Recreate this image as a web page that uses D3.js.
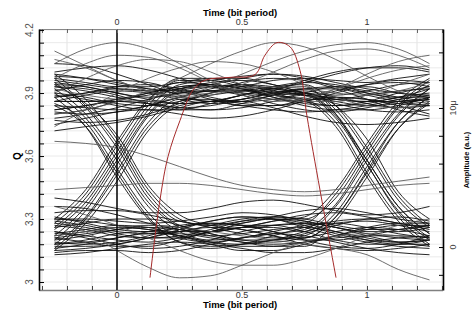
<!DOCTYPE html>
<html>
<head>
<meta charset="utf-8">
<script src="https://cdn.jsdelivr.net/npm/d3@7"></script>
<style>
  body { margin: 0; background: #fff; }
  text { font-family: "Liberation Sans", Arial, sans-serif; }
</style>
</head>
<body>
<div id="eye"></div>
<script>
// sample times (bit period) for every trace
var timeSamples = [-0.25, -0.125, 0, 0.125, 0.25, 0.375, 0.5, 0.625, 0.75, 0.875, 1, 1.125, 1.25];

// traces that stay in the "1" level
var highTraces = [
  [3.95,3.93,3.90,3.88,3.90,3.93,3.94,3.92,3.90,3.89,3.91,3.94,3.95],
  [3.88,3.90,3.93,3.94,3.92,3.88,3.86,3.87,3.90,3.93,3.93,3.90,3.88],
  [3.82,3.84,3.86,3.85,3.83,3.84,3.87,3.90,3.91,3.88,3.85,3.83,3.84],
  [3.98,3.97,3.95,3.92,3.90,3.91,3.93,3.96,3.97,3.96,3.95,3.97,3.99],
  [3.90,3.88,3.85,3.84,3.86,3.90,3.92,3.90,3.86,3.84,3.85,3.88,3.90],
  [3.78,3.80,3.83,3.87,3.90,3.91,3.89,3.85,3.82,3.81,3.83,3.86,3.87],
  [4.00,4.02,4.03,4.01,3.97,3.93,3.91,3.92,3.95,3.99,4.02,4.03,4.01],
  [3.86,3.86,3.87,3.89,3.92,3.95,3.96,3.94,3.90,3.87,3.86,3.86,3.87],
  [3.93,3.91,3.88,3.86,3.85,3.86,3.89,3.93,3.95,3.94,3.90,3.87,3.85],
  [3.75,3.78,3.81,3.82,3.80,3.78,3.79,3.82,3.86,3.88,3.87,3.84,3.80],
  [3.91,3.94,3.96,3.95,3.91,3.87,3.84,3.84,3.87,3.91,3.94,3.95,3.93],
  [3.84,3.83,3.82,3.84,3.88,3.92,3.94,3.93,3.89,3.85,3.82,3.81,3.82],
  [3.96,3.94,3.92,3.91,3.92,3.94,3.97,3.99,3.98,3.95,3.92,3.90,3.89],
  [3.80,3.82,3.86,3.90,3.93,3.94,3.92,3.88,3.84,3.82,3.82,3.84,3.88],
  [3.72,3.74,3.76,3.79,3.83,3.86,3.86,3.83,3.79,3.76,3.75,3.76,3.78],
  [3.89,3.87,3.84,3.82,3.82,3.85,3.89,3.91,3.89,3.86,3.84,3.85,3.88],
  [4.04,4.03,3.99,3.94,3.89,3.86,3.87,3.91,3.96,4.00,4.02,4.02,4.00],
  [3.77,3.76,3.77,3.80,3.85,3.90,3.95,3.97,3.96,3.92,3.87,3.82,3.79],
  [3.86,3.89,3.91,3.90,3.87,3.85,3.86,3.89,3.92,3.93,3.91,3.88,3.86],
  [3.93,3.92,3.89,3.85,3.82,3.82,3.85,3.89,3.92,3.92,3.89,3.86,3.84],
  [3.81,3.80,3.81,3.84,3.88,3.91,3.91,3.88,3.85,3.84,3.86,3.90,3.93],
  [3.97,3.95,3.93,3.93,3.95,3.97,3.97,3.94,3.90,3.87,3.86,3.88,3.92]
];

// overshoot arcs above the "1" level
var overTraces = [
  [4.04,4.11,4.14,4.11,4.04,3.96,3.90,3.87,3.88,3.92,3.97,4.01,4.03],
  [3.97,4.04,4.08,4.07,4.02,3.95,3.89,3.86,3.87,3.92,3.99,4.05,4.08],
  [3.90,3.97,4.03,4.06,4.05,4.00,3.94,3.89,3.86,3.86,3.89,3.94,3.99],
  [3.80,3.82,3.86,3.91,3.97,4.04,4.10,4.14,4.12,4.06,3.98,3.91,3.86],
  [3.92,3.89,3.87,3.86,3.88,3.93,3.99,4.05,4.10,4.13,4.14,4.11,4.04],
  [4.06,4.02,3.96,3.91,3.88,3.89,3.94,4.00,4.06,4.10,4.11,4.08,4.02],
  [3.74,3.82,3.90,3.97,4.02,4.05,4.04,4.00,3.94,3.88,3.84,3.83,3.85],
  [4.10,4.03,3.96,3.91,3.89,3.90,3.92,3.93,3.92,3.90,3.89,3.91,3.95]
];

// traces that stay in the "0" level
var lowTraces = [
  [3.20,3.22,3.25,3.27,3.26,3.23,3.20,3.19,3.21,3.24,3.26,3.25,3.22],
  [3.28,3.26,3.23,3.21,3.21,3.24,3.28,3.30,3.29,3.26,3.23,3.21,3.20],
  [3.15,3.16,3.18,3.21,3.24,3.26,3.25,3.22,3.18,3.16,3.15,3.16,3.18],
  [3.33,3.34,3.34,3.32,3.29,3.27,3.28,3.31,3.34,3.35,3.33,3.30,3.28],
  [3.24,3.21,3.18,3.16,3.17,3.20,3.24,3.27,3.28,3.26,3.22,3.19,3.17],
  [3.18,3.20,3.23,3.24,3.22,3.19,3.17,3.17,3.19,3.22,3.25,3.27,3.27],
  [3.30,3.30,3.29,3.28,3.29,3.31,3.33,3.32,3.29,3.26,3.24,3.24,3.26],
  [3.13,3.14,3.16,3.18,3.19,3.18,3.16,3.14,3.14,3.16,3.19,3.21,3.22],
  [3.26,3.28,3.30,3.30,3.27,3.23,3.20,3.20,3.23,3.27,3.30,3.31,3.29],
  [3.21,3.19,3.17,3.17,3.20,3.24,3.27,3.27,3.24,3.20,3.18,3.18,3.20],
  [3.36,3.35,3.32,3.28,3.25,3.24,3.26,3.29,3.32,3.33,3.31,3.28,3.26],
  [3.17,3.17,3.18,3.21,3.25,3.29,3.31,3.30,3.26,3.22,3.19,3.17,3.16],
  [3.23,3.25,3.27,3.26,3.22,3.18,3.15,3.15,3.18,3.22,3.26,3.28,3.28],
  [3.40,3.38,3.35,3.33,3.33,3.35,3.38,3.39,3.37,3.34,3.32,3.33,3.36],
  [3.14,3.15,3.15,3.14,3.15,3.18,3.21,3.23,3.22,3.19,3.16,3.14,3.13],
  [3.29,3.27,3.24,3.23,3.24,3.27,3.30,3.31,3.30,3.27,3.25,3.25,3.27],
  [3.22,3.24,3.26,3.25,3.22,3.19,3.18,3.20,3.24,3.28,3.29,3.27,3.24],
  [3.16,3.18,3.21,3.23,3.23,3.21,3.19,3.18,3.19,3.21,3.22,3.22,3.21],
  [3.31,3.28,3.25,3.24,3.26,3.29,3.31,3.30,3.27,3.23,3.20,3.19,3.20],
  [3.19,3.18,3.19,3.22,3.26,3.28,3.27,3.24,3.20,3.17,3.16,3.18,3.22]
];

// undershoots and stray traces
var underTraces = [
  [3.30,3.24,3.15,3.07,3.02,3.03,3.08,3.14,3.19,3.22,3.23,3.22,3.20],
  [3.22,3.24,3.26,3.27,3.26,3.24,3.22,3.20,3.18,3.16,3.13,3.06,3.01],
  [3.36,3.32,3.27,3.21,3.15,3.10,3.08,3.08,3.11,3.16,3.22,3.27,3.30],
  [3.44,3.45,3.46,3.47,3.47,3.46,3.44,3.42,3.41,3.42,3.44,3.46,3.47],
  [3.67,3.66,3.64,3.60,3.55,3.50,3.46,3.44,3.43,3.44,3.46,3.48,3.50]
];

// traces with a transition at t = 0 and/or t = 1
var edgeTraces = [
  [3.92,3.80,3.60,3.38,3.26,3.22,3.23,3.25,3.26,3.24,3.21,3.19,3.20],
  [3.85,3.76,3.54,3.33,3.21,3.19,3.21,3.24,3.27,3.28,3.26,3.23,3.21],
  [3.97,3.84,3.66,3.42,3.29,3.27,3.29,3.30,3.28,3.24,3.20,3.18,3.18],
  [3.88,3.74,3.50,3.30,3.19,3.16,3.18,3.22,3.26,3.29,3.30,3.28,3.25],
  [3.94,3.85,3.70,3.46,3.32,3.27,3.25,3.22,3.20,3.20,3.22,3.25,3.27],
  [3.90,3.78,3.58,3.36,3.24,3.20,3.21,3.23,3.25,3.37,3.60,3.80,3.92],
  [3.95,3.83,3.64,3.40,3.27,3.24,3.26,3.27,3.28,3.42,3.64,3.84,3.96],
  [3.84,3.74,3.52,3.31,3.19,3.17,3.18,3.20,3.22,3.33,3.55,3.76,3.88],
  [3.99,3.87,3.68,3.44,3.30,3.26,3.23,3.21,3.21,3.31,3.52,3.73,3.85],
  [3.88,3.90,3.92,3.91,3.88,3.86,3.87,3.90,3.92,3.82,3.62,3.39,3.26],
  [3.94,3.93,3.90,3.87,3.85,3.86,3.89,3.92,3.93,3.80,3.56,3.34,3.21],
  [3.82,3.84,3.87,3.90,3.93,3.94,3.92,3.89,3.87,3.76,3.52,3.31,3.18],
  [3.99,3.97,3.94,3.92,3.91,3.91,3.90,3.89,3.90,3.84,3.68,3.43,3.30],
  [3.86,3.86,3.86,3.85,3.83,3.82,3.83,3.86,3.89,3.80,3.58,3.36,3.23],
  [3.22,3.36,3.58,3.80,3.92,3.94,3.92,3.89,3.87,3.87,3.89,3.91,3.92],
  [3.18,3.31,3.53,3.76,3.87,3.87,3.85,3.84,3.86,3.90,3.94,3.96,3.95],
  [3.28,3.42,3.65,3.86,3.97,3.97,3.94,3.91,3.89,3.88,3.87,3.85,3.84],
  [3.25,3.38,3.60,3.82,3.94,3.96,3.98,3.99,3.97,3.93,3.90,3.88,3.88],
  [3.15,3.28,3.48,3.72,3.84,3.86,3.84,3.82,3.81,3.82,3.84,3.87,3.89],
  [3.20,3.34,3.56,3.79,3.91,3.93,3.93,3.92,3.90,3.79,3.58,3.36,3.23],
  [3.26,3.40,3.62,3.84,3.96,3.96,3.93,3.90,3.89,3.78,3.56,3.33,3.20],
  [3.30,3.44,3.67,3.87,3.95,3.94,3.90,3.87,3.86,3.74,3.50,3.29,3.17],
  [3.16,3.30,3.51,3.74,3.86,3.89,3.91,3.93,3.94,3.84,3.64,3.41,3.27],
  [3.24,3.22,3.20,3.19,3.21,3.24,3.26,3.26,3.24,3.36,3.58,3.79,3.92],
  [3.18,3.19,3.21,3.24,3.27,3.28,3.27,3.24,3.21,3.31,3.53,3.76,3.88],
  [3.30,3.29,3.27,3.25,3.24,3.24,3.26,3.29,3.31,3.44,3.66,3.86,3.97],
  [3.21,3.23,3.25,3.26,3.25,3.22,3.19,3.17,3.17,3.29,3.50,3.73,3.86],
  [3.27,3.25,3.22,3.21,3.22,3.25,3.29,3.31,3.30,3.40,3.62,3.83,3.94]
];

// red amplitude curve (right axis, in micro units)
var redTime = [0.132, 0.172, 0.204, 0.252, 0.304, 0.352, 0.452, 0.552, 0.592, 0.64, 0.692, 0.732, 0.76, 0.812, 0.876];
var redAmp  = [-2.2, 3.4, 6.5, 9.1, 11.3, 12.0, 12.2, 12.4, 13.8, 14.7, 14.4, 12.7, 9.4, 4.1, -2.2];

var timeLabels = [0, 0.5, 1];
var qLabels = [4.2, 3.9, 3.6, 3.3, 3];
var ampLabels = [0, 10];

var width = 472,
    height = 313,
    plotL = 39, plotR = 443, plotT = 29, plotB = 290;

var x = d3.scaleLinear().domain([-0.312, 1.304]).range([plotL, plotR]);
var y = d3.scaleLinear().domain([2.962, 4.205]).range([plotB, plotT]);
var yAmp = d3.scaleLinear().domain([-3.09, 15.68]).range([plotB, plotT]);

var svg = d3.select("#eye").append("svg")
    .attr("width", width)
    .attr("height", height);

svg.append("rect").attr("width", width).attr("height", height).attr("fill", "#fff");

svg.append("clipPath").attr("id", "plotClip")
  .append("rect")
    .attr("x", plotL).attr("y", plotT)
    .attr("width", plotR - plotL).attr("height", plotB - plotT);

// grid
var xGrid = d3.range(-3, 14).map(function(i){ return i / 10; });
var yGrid = d3.range(0, 21).map(function(i){ return 4.2 - i * 0.06; });

svg.append("g").selectAll("line")
    .data(xGrid)
    .enter().append("line")
    .attr("x1", function(d){ return x(d); })
    .attr("x2", function(d){ return x(d); })
    .attr("y1", plotT).attr("y2", plotB)
    .attr("stroke", "#dcdcdc").attr("stroke-width", 0.8);

svg.append("g").selectAll("line")
    .data(yGrid)
    .enter().append("line")
    .attr("x1", plotL).attr("x2", plotR)
    .attr("y1", function(d){ return y(d); })
    .attr("y2", function(d){ return y(d); })
    .attr("stroke", "#e4e4e4").attr("stroke-width", 0.8);

// eye traces
var line = d3.line()
    .x(function(d, i){ return x(timeSamples[i]); })
    .y(function(d){ return y(d); })
    .curve(d3.curveMonotoneX);

var traces = svg.append("g").attr("clip-path", "url(#plotClip)");

function drawTraces(data, color, op) {
  traces.append("g").selectAll("path")
      .data(data)
      .enter().append("path")
      .attr("d", line)
      .attr("fill", "none")
      .attr("stroke", color)
      .attr("stroke-opacity", op)
      .attr("stroke-width", 1);
}

drawTraces(highTraces, "#111", 0.9);
drawTraces(lowTraces, "#111", 0.9);
drawTraces(edgeTraces, "#111", 0.9);
drawTraces(overTraces, "#555", 0.85);
drawTraces(underTraces, "#555", 0.85);

// red amplitude curve
var redLine = d3.line()
    .x(function(d){ return x(d); })
    .y(function(d, i){ return yAmp(redAmp[i]); })
    .curve(d3.curveCatmullRom);

traces.append("path")
    .attr("d", redLine(redTime))
    .attr("fill", "none")
    .attr("stroke", "#a52a2a")
    .attr("stroke-width", 1);

// t = 0 marker
svg.append("line")
    .attr("x1", x(0)).attr("x2", x(0))
    .attr("y1", plotT).attr("y2", plotB)
    .attr("stroke", "#000").attr("stroke-width", 1.5);

// axes
var tickT = d3.range(-3, 14).map(function(i){ return i / 10; });

svg.append("g")
    .attr("transform", "translate(0," + plotT + ")")
    .call(d3.axisTop(x).tickValues(tickT).tickSizeInner(-4).tickSizeOuter(0).tickFormat(""))
    .call(function(g){ g.select(".domain").attr("stroke", "#888"); g.selectAll(".tick line").attr("stroke", "#666"); });

svg.append("g")
    .attr("transform", "translate(0," + plotB + ")")
    .call(d3.axisBottom(x).tickValues(tickT).tickSizeInner(-4).tickSizeOuter(0).tickFormat(""))
    .call(function(g){
      g.select(".domain").attr("stroke", "#000").attr("stroke-width", 1.6).attr("stroke-dasharray", "1,1");
      g.selectAll(".tick line").attr("stroke", "#444");
    });

svg.append("g")
    .attr("transform", "translate(" + plotL + ",0)")
    .call(d3.axisLeft(y).tickValues(yGrid).tickSizeInner(-5).tickSizeOuter(0).tickFormat(""))
    .call(function(g){ g.select(".domain").attr("stroke", "#000").attr("stroke-width", 1.6); });

svg.append("g")
    .attr("transform", "translate(" + plotR + ",0)")
    .call(d3.axisRight(yAmp).tickValues(d3.range(-2, 16, 2)).tickSizeInner(-4).tickSizeOuter(0).tickFormat(""))
    .call(function(g){ g.select(".domain").attr("stroke", "#000").attr("stroke-width", 1.6); });

// tick labels
svg.append("g").selectAll("text")
    .data(timeLabels)
    .enter().append("text")
    .attr("x", function(d){ return x(d); })
    .attr("y", 25)
    .attr("text-anchor", "middle")
    .attr("font-size", 9)
    .attr("fill", "#333")
    .text(function(d){ return d; });

svg.append("g").selectAll("text")
    .data(timeLabels)
    .enter().append("text")
    .attr("x", function(d){ return x(d); })
    .attr("y", 298)
    .attr("text-anchor", "middle")
    .attr("font-size", 9)
    .attr("fill", "#333")
    .text(function(d){ return d; });

svg.append("g").selectAll("text")
    .data(qLabels)
    .enter().append("text")
    .attr("transform", function(d){ return "translate(33," + y(d) + ") rotate(-90)"; })
    .attr("text-anchor", "middle")
    .attr("font-size", 10)
    .attr("fill", "#555")
    .text(function(d){ return d; });

svg.append("g").selectAll("text")
    .data(ampLabels)
    .enter().append("text")
    .attr("transform", function(d){ return "translate(456," + yAmp(d) + ") rotate(-90)"; })
    .attr("text-anchor", "middle")
    .attr("font-size", 9)
    .attr("fill", "#444")
    .text(function(d){ return d === 0 ? "0" : d + "\u03bc"; });

// axis titles
svg.append("text")
    .attr("x", 240).attr("y", 16)
    .attr("text-anchor", "middle")
    .attr("font-size", 9.5).attr("font-weight", "bold")
    .text("Time (bit period)");

svg.append("text")
    .attr("x", 240).attr("y", 308)
    .attr("text-anchor", "middle")
    .attr("font-size", 9.5).attr("font-weight", "bold")
    .text("Time (bit period)");

svg.append("text")
    .attr("transform", "translate(21," + y(3.6) + ") rotate(-90)")
    .attr("text-anchor", "middle")
    .attr("font-size", 10).attr("font-weight", "bold")
    .text("Q");

svg.append("text")
    .attr("transform", "translate(469,160) rotate(-90)")
    .attr("text-anchor", "middle")
    .attr("font-size", 7.5).attr("font-weight", "bold")
    .text("Amplitude (a.u.)");
</script>
</body>
</html>
